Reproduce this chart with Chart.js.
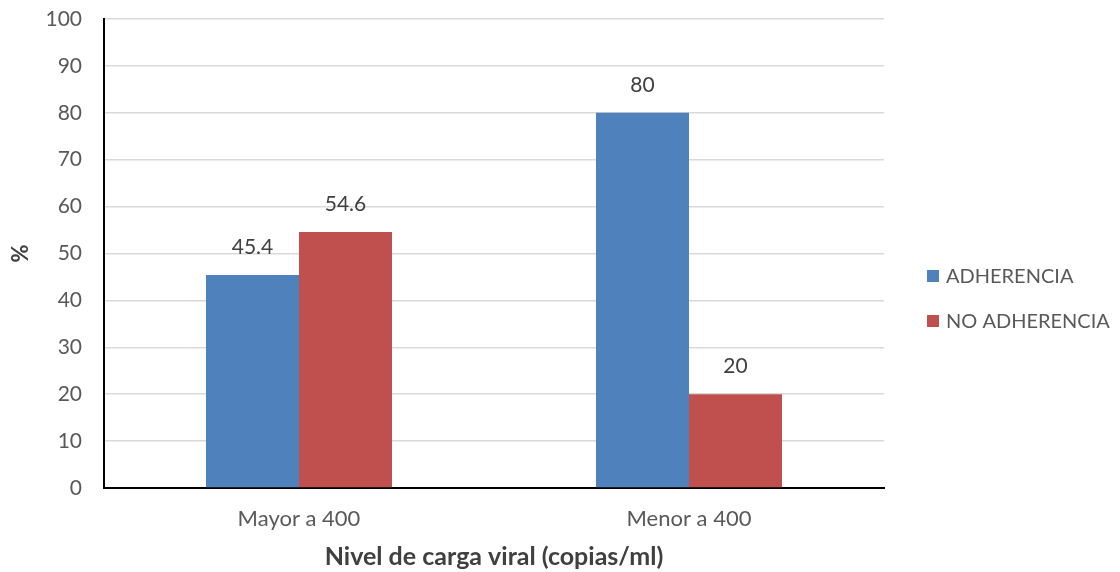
<!DOCTYPE html>
<html>
<head>
<meta charset="utf-8">
<script src="https://cdn.jsdelivr.net/npm/chart.js@4.4.0/dist/chart.umd.min.js"></script>
<style>
  html, body { margin: 0; padding: 0; background: #fff; }
  #wrap { width: 1120px; height: 572px; }
</style>
</head>
<body>
<div id="wrap"><canvas id="c" width="1120" height="572"></canvas></div>
<script>
// Viral load categories and percentages per adherence group
const categories = ['Mayor a 400', 'Menor a 400'];
const adherencia = [45.4, 80];
const noAdherencia = [54.6, 20];
const seriesNames = ['ADHERENCIA', 'NO ADHERENCIA'];
const yTicks = [0, 10, 20, 30, 40, 50, 60, 70, 80, 90, 100];

const FONT = 'Lato, "Open Sans", sans-serif';
const BLUE = '#4F81BD';
const RED = '#C0504D';

// Value labels above every bar
const valueLabels = {
  id: 'valueLabels',
  afterDatasetsDraw(chart) {
    const ctx = chart.ctx;
    ctx.save();
    ctx.font = '21px ' + FONT;
    ctx.fillStyle = '#404040';
    ctx.textAlign = 'center';
    ctx.textBaseline = 'middle';
    chart.data.datasets.forEach((ds, i) => {
      chart.getDatasetMeta(i).data.forEach((bar, j) => {
        ctx.fillText(String(ds.data[j]), bar.x, bar.y - 28);
      });
    });
    ctx.restore();
  }
};

// Legend drawn to the right of the plot area
const sideLegend = {
  id: 'sideLegend',
  afterDraw(chart) {
    const ctx = chart.ctx;
    const area = chart.chartArea;
    ctx.save();
    ctx.font = '20px ' + FONT;
    ctx.textBaseline = 'middle';
    ctx.textAlign = 'left';
    chart.data.datasets.forEach((ds, i) => {
      const y = 276 + i * 45;
      const x = area.right + 43;
      ctx.fillStyle = ds.backgroundColor;
      ctx.fillRect(x, y - 6, 12, 12);
      ctx.fillStyle = '#595959';
      ctx.fillText(ds.label, x + 19, y + 1);
    });
    ctx.restore();
  }
};

new Chart(document.getElementById('c'), {
  type: 'bar',
  data: {
    labels: categories,
    datasets: [
      { label: seriesNames[0], data: adherencia, backgroundColor: BLUE, borderWidth: 0 },
      { label: seriesNames[1], data: noAdherencia, backgroundColor: RED, borderWidth: 0 }
    ]
  },
  options: {
    responsive: false,
    animation: false,
    layout: { padding: { top: 19, right: 236, bottom: 0, left: 0 } },
    plugins: {
      legend: { display: false },
      tooltip: { enabled: false }
    },
    datasets: {
      bar: { categoryPercentage: 0.477, barPercentage: 1.0 }
    },
    scales: {
      x: {
        grid: { display: false, drawTicks: false },
        border: { color: '#000', width: 2 },
        ticks: { color: '#595959', font: { family: FONT, size: 22 }, padding: 18 },
        title: {
          display: true,
          text: 'Nivel de carga viral (copias/ml)',
          color: '#404040',
          font: { family: FONT, size: 25, weight: 'bold' },
          padding: { top: 9, bottom: 0 }
        },
        afterFit(scale) { scale.height = 84; }
      },
      y: {
        min: 0,
        max: 100,
        afterBuildTicks(scale) { scale.ticks = yTicks.map(v => ({ value: v })); },
        grid: { color: '#D9D9D9', lineWidth: 1.5, drawTicks: false },
        border: { color: '#000', width: 2 },
        ticks: { color: '#595959', font: { family: FONT, size: 21 }, padding: 22 },
        title: {
          display: true,
          text: '%',
          color: '#404040',
          font: { family: FONT, size: 22, weight: 'bold' },
          padding: { top: 8, bottom: 0 }
        },
        afterFit(scale) {
          scale.width = 104;
          scale.paddingTop = 0;
          scale.paddingBottom = 0;
        }
      }
    }
  },
  plugins: [valueLabels, sideLegend]
});
</script>
</body>
</html>
